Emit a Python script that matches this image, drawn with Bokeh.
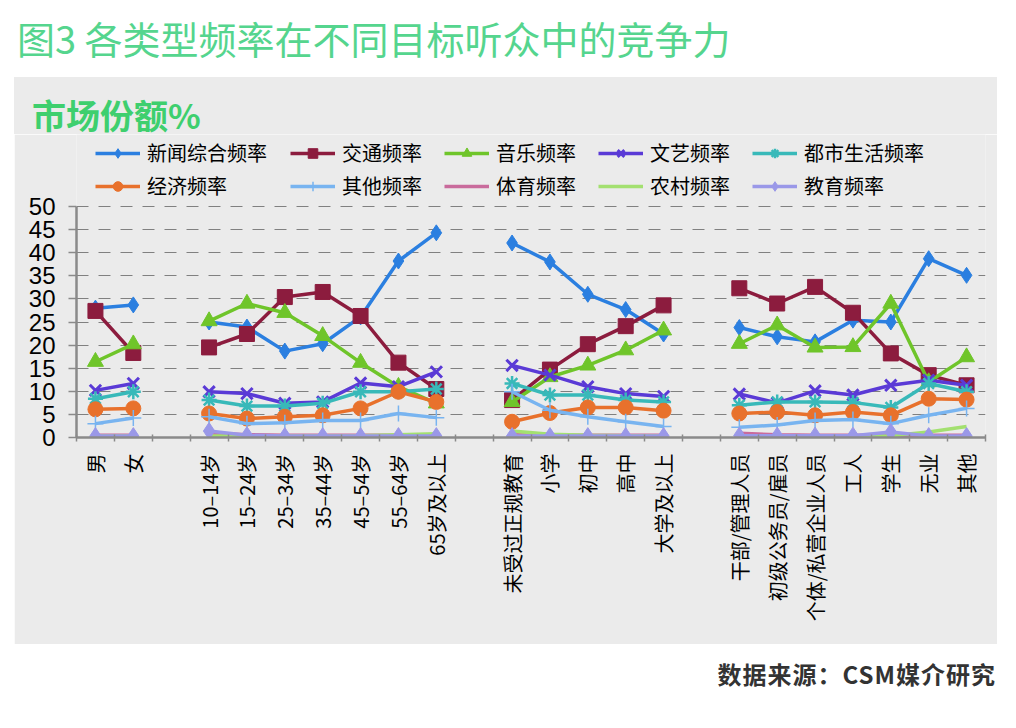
import math
from bokeh.plotting import figure
from bokeh.models import Range1d, FixedTicker, Legend, LegendItem, Div
from bokeh.layouts import column
from bokeh.embed import file_html
from bokeh.resources import INLINE

# ---------------- data ----------------
categories = ["男", "女", "",
              "10–14岁", "15–24岁", "25–34岁", "35–44岁", "45–54岁", "55–64岁", "65岁及以上", "",
              "未受过正规教育", "小学", "初中", "高中", "大学及以上", "",
              "干部/管理人员", "初级公务员/雇员", "个体/私营企业人员", "工人", "学生", "无业", "其他"]
y_ticks = [0, 5, 10, 15, 20, 25, 30, 35, 40, 45, 50]

series_names = ["新闻综合频率", "交通频率", "音乐频率", "文艺频率", "都市生活频率",
                "经济频率", "其他频率", "体育频率", "农村频率", "教育频率"]

xinwen = [28.0, 28.7, None, 25.0, 23.9, 18.7, 20.3, 26.1, 38.2, 44.3, None,
          42.1, 38.0, 31.0, 27.7, 22.4, None, 23.8, 21.8, 20.7, 25.4, 25.0, 38.7, 35.1]
jiaotong = [27.4, 18.3, None, 19.5, 22.4, 30.4, 31.5, 26.3, 16.2, 10.5, None,
            8.1, 14.7, 20.2, 24.1, 28.6, None, 32.3, 29.0, 32.6, 27.0, 18.2, 13.5, 11.3]
yinyue = [16.4, 20.2, None, 25.2, 29.0, 27.0, 22.0, 16.2, 11.0, 7.4, None,
          7.7, 13.1, 15.6, 18.9, 23.2, None, 20.3, 24.3, 19.5, 19.6, 29.0, 12.0, 17.4]
wenyi = [10.2, 11.7, None, 9.9, 9.5, 7.4, 7.7, 11.8, 11.0, 14.2, None,
         15.6, 13.5, 11.0, 9.5, 8.9, None, 9.4, 7.5, 10.1, 9.2, 11.3, 12.4, 11.3]
dushi = [8.4, 9.9, None, 8.1, 6.8, 6.8, 7.4, 9.9, 9.9, 10.5, None,
         11.7, 9.2, 9.2, 8.1, 7.7, None, 7.0, 7.7, 7.7, 7.6, 6.5, 11.7, 9.9]
jingji = [6.1, 6.3, None, 5.2, 4.1, 4.5, 4.8, 6.3, 9.9, 7.7, None,
          3.4, 5.3, 6.5, 6.5, 5.8, None, 5.2, 5.5, 4.8, 5.5, 4.8, 8.4, 8.2]
qita = [3.0, 4.2, None, 4.5, 3.0, 3.2, 3.7, 3.7, 5.2, 4.3, None,
        9.9, 5.9, 4.5, 3.4, 2.4, None, 2.2, 2.7, 3.7, 3.9, 3.0, 4.8, 6.3]
tiyu = [0.5, 0.5, None, 1.0, 0.6, 0.5, 0.5, 0.5, 0.5, 0.5, None,
        0.6, 0.5, 0.5, 0.5, 0.5, None, 0.9, 0.6, 0.5, 0.5, 0.5, 0.5, 0.5]
nongcun = [0.3, 0.3, None, 0.3, 0.3, 0.3, 0.3, 0.4, 0.6, 0.8, None,
           1.4, 0.7, 0.5, 0.4, 0.3, None, 0.3, 0.3, 0.3, 0.3, 0.4, 1.2, 2.4]
jiaoyu = [0.3, 0.3, None, 1.4, 0.5, 0.3, 0.3, 0.3, 0.3, 0.3, None,
          0.3, 0.3, 0.3, 0.3, 0.3, None, 0.4, 0.4, 0.4, 0.4, 1.2, 0.3, 0.3]

series_values = [xinwen, jiaotong, yinyue, wenyi, dushi, jingji, qita, tiyu, nongcun, jiaoyu]

# ---------------- styles ----------------
colors = ["#2b7fe0", "#8c1c3e", "#6fc52a", "#5a3ad6", "#38b9b9",
          "#e8712c", "#78b4f0", "#c96b9c", "#a3e070", "#9a98e8"]
markers = ["diamond", "square", "triangle", "x", "asterisk",
           "circle", "cross", None, None, "diamond"]
msizes = [16, 15, 16, 16, 15, 15, 16, 0, 0, 17]
mlw = [1, 1, 1, 3, 2.5, 1, 1.5, 1, 1, 1]

CJK = "Noto Sans CJK SC"
PANEL = "#ebebeb"

# layout (pixels)
FIG_W, FIG_H = 983, 510
BORDER_L, BORDER_R, BORDER_B = 62, 12, 207
TOP_GAP = 72            # space inside the frame above the value 50 (legend lives there)
frame_h = FIG_H - BORDER_B
y_end = y_ticks[-1] * frame_h / (frame_h - TOP_GAP)

x = list(range(len(categories)))
n = len(categories)

p = figure(width=FIG_W, height=FIG_H, output_backend="svg", toolbar_location=None,
           x_range=Range1d(-0.5, n - 0.5), y_range=Range1d(0, y_end),
           min_border_left=BORDER_L, min_border_right=BORDER_R, min_border_top=0,
           min_border_bottom=BORDER_B,
           background_fill_color=PANEL, border_fill_color=PANEL)
p.outline_line_color = None
p.margin = (0, 0, 0, 14)

items = []
for name, vals, c, m, s, lw in zip(series_names, series_values, colors, markers, msizes, mlw):
    ys = [float("nan") if v is None else v for v in vals]
    rends = [p.line(x, ys, line_color=c, line_width=3.5)]
    if m is not None:
        rends.append(p.scatter(x, ys, marker=m, size=s, fill_color=c, line_color=c,
                               line_width=lw))
    items.append(LegendItem(label=name, renderers=rends))

legend_style = dict(orientation="horizontal", margin=0, padding=0, spacing=4,
                    glyph_width=45, glyph_height=24, label_standoff=7,
                    label_text_font=CJK, label_text_font_size="20px",
                    label_text_color="black", background_fill_alpha=0,
                    border_line_color=None)
legend_y = frame_h - TOP_GAP + 6
legend_a = Legend(items=[items[0], items[5]], ncols=1, location=(19, legend_y), **legend_style)
legend_b = Legend(items=items[1:5] + items[6:10], ncols=4, label_width=98,
                  location=(214, legend_y), **legend_style)
p.add_layout(legend_a, "center")
p.add_layout(legend_b, "center")

# axes
tick_pos = [i for i, c in enumerate(categories) if c]
xa = p.xaxis[0]
xa.ticker = FixedTicker(ticks=tick_pos, minor_ticks=[i - 0.5 for i in range(n + 1)])
xa.major_label_overrides = {i: categories[i] for i in tick_pos}
xa.major_label_orientation = math.pi / 2
xa.major_label_text_font = CJK
xa.major_label_text_font_size = "20px"
xa.major_label_text_color = "black"
xa.major_tick_line_color = None
xa.major_tick_in = 0
xa.major_tick_out = 0
xa.minor_tick_in = 3
xa.minor_tick_out = 4
xa.minor_tick_line_color = "#8a8a8a"
xa.minor_tick_line_width = 1.5
xa.axis_line_color = "#8a8a8a"
xa.axis_line_width = 2.5
xa.major_label_standoff = 12

ya = p.yaxis[0]
ya.ticker = FixedTicker(ticks=y_ticks)
ya.bounds = (y_ticks[0], y_ticks[-1])
ya.major_label_text_font = "Liberation Sans"
ya.major_label_text_font_size = "24px"
ya.major_label_text_color = "black"
ya.major_tick_in = 0
ya.major_tick_out = 8
ya.major_tick_line_color = "#8a8a8a"
ya.major_tick_line_width = 1.5
ya.minor_tick_line_color = None
ya.axis_line_color = "#8a8a8a"
ya.axis_line_width = 2.5
ya.major_label_standoff = 13

p.xgrid.grid_line_color = None
p.ygrid.grid_line_color = "#808080"
p.ygrid.grid_line_width = 1
p.ygrid.grid_line_dash = "12 10"

title_div = Div(text='<div style="font-family:\'Noto Sans CJK SC\'; font-size:38px; color:#55d58e; '
                     'padding-left:17px; padding-top:19px; line-height:1; white-space:nowrap">'
                     '图3 各类型频率在不同目标听众中的竞争力</div>',
                width=1000, height=77, margin=0)
sub_div = Div(text='<div style="background:#ebebeb; width:983px; height:57px; box-sizing:border-box; '
                   'font-family:\'Noto Sans CJK SC\'; font-size:34px; font-weight:bold; color:#3ecf6e; '
                   'padding-left:18px; padding-top:21px; line-height:1; white-space:nowrap">'
                   '市场份额%</div>',
              width=983, height=57, margin=(0, 0, 0, 14))
footer_div = Div(text='<div style="font-family:\'Noto Sans CJK SC\'; font-size:24px; font-weight:bold; '
                      'color:#333333; padding-top:18px; line-height:1; width:996px; text-align:right; '
                      'letter-spacing:1px; white-space:nowrap">数据来源：CSM媒介研究</div>',
                 width=1000, height=60, margin=0)

layout = column(title_div, sub_div, p, footer_div, spacing=0)
open("out.html", "w").write(file_html(layout, INLINE))
